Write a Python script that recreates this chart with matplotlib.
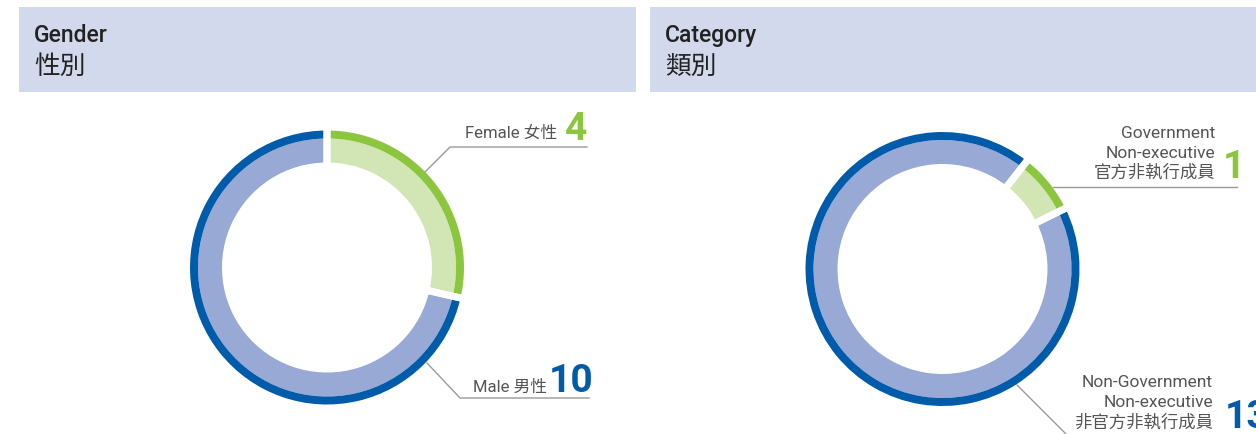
import matplotlib
matplotlib.use('Agg')
import matplotlib.pyplot as plt
from matplotlib import font_manager
from matplotlib.patches import Rectangle

# data
gender_labels = ['Female 女性', 'Male 男性']
gender_counts = [4, 10]
category_labels = [['Government', 'Non-executive', '官方非執行成員'],
                   ['Non-Government', 'Non-executive', '非官方非執行成員']]
category_counts = [1, 13]

W, H = 1256, 434
dark = {'green': '#8CC63E', 'blue': '#005BAA'}
light = {'green': '#D1E6B4', 'blue': '#97A9D4'}
line_col = '#9a9a9a'
text_col = '#555555'

try:
    font_manager.findfont('Liberation Sans Narrow', fallback_to_default=False)
    num_font = ['Liberation Sans Narrow', 'DejaVu Sans']
except Exception:
    num_font = ['Roboto', 'DejaVu Sans']
lab_font = ['Roboto', 'Noto Sans CJK TC']

fig = plt.figure(figsize=(W / 100, H / 100), dpi=100)
ax = fig.add_axes([0, 0, 1, 1])


def donut(values, center, start, r_out=137, r_in=105, stripe=8):
    cols_d = [dark['green'], dark['blue']]
    cols_l = [light['green'], light['blue']]
    lw_px = 7
    pad = lw_px / 2
    # light inner ring
    ax.pie(values, radius=r_out - stripe, center=center, startangle=start,
           counterclock=False, colors=cols_l,
           wedgeprops=dict(width=r_out - stripe - r_in + pad, linewidth=0))
    # dark outer stripe
    ax.pie(values, radius=r_out + pad, center=center, startangle=start,
           counterclock=False, colors=cols_d,
           wedgeprops=dict(width=stripe + pad, linewidth=0))
    # white gaps between slices
    ax.pie(values, radius=r_out + pad, center=center, startangle=start,
           counterclock=False, colors=['none', 'none'],
           wedgeprops=dict(width=r_out - r_in + 2 * pad, edgecolor='white',
                           linewidth=lw_px * 0.72, facecolor='none'))


# header boxes
ax.add_patch(Rectangle((19, H - 92), 617, 85, color='#D3D9ED', lw=0))
ax.add_patch(Rectangle((650, H - 92), 620, 85, color='#D3D9ED', lw=0))
for x0, t1, t2 in [(34, 'Gender', '性別'), (665, 'Category', '類別')]:
    ax.text(x0, H - 42, t1, fontsize=16.5, family=lab_font, weight='medium',
            color='#222222', va='baseline')
    ax.text(x0, H - 74, t2, fontsize=18.5, family=['Noto Sans CJK TC'],
            weight='medium', color='#222222', va='baseline')

# gender donut
donut(gender_counts, (327, H - 267.5), 90)
ax.text(557, H - 138, gender_labels[0], ha='right', va='baseline',
        fontsize=12, family=lab_font, color=text_col)
ax.text(565, H - 140, str(gender_counts[0]), ha='left', va='baseline',
        fontsize=28, family=num_font, weight='bold', color=dark['green'])
ax.plot([425, 450, 587], [H - 172, H - 147, H - 147], color=line_col, lw=1)
ax.text(547, H - 392, gender_labels[1], ha='right', va='baseline',
        fontsize=12, family=lab_font, color=text_col)
ax.text(549, H - 392, str(gender_counts[1]), ha='left', va='baseline',
        fontsize=28, family=num_font, weight='bold', color=dark['blue'])
ax.plot([427, 460, 589], [H - 363, H - 398, H - 398], color=line_col, lw=1)

# category donut
donut(category_counts, (942.5, H - 269), 52)
for i, s in enumerate(category_labels[0]):
    ax.text(1215, H - 138 - 19.5 * i, s, ha='right', va='baseline',
            fontsize=12.5, family=lab_font, color=text_col)
ax.text(1223, H - 178, str(category_counts[0]), ha='left', va='baseline',
        fontsize=28, family=num_font, weight='bold', color=dark['green'])
ax.plot([1053, 1237], [H - 187, H - 187], color=line_col, lw=1)
for i, s in enumerate(category_labels[1]):
    ax.text(1213, H - 387 - 20 * i, s, ha='right', va='baseline',
            fontsize=12.5, family=lab_font, color=text_col)
ax.text(1225, H - 428, str(category_counts[1]), ha='left', va='baseline',
        fontsize=28, family=num_font, weight='bold', color=dark['blue'])
ax.plot([1017, 1070], [H - 385, H - 438], color=line_col, lw=1)

ax.set_xlim(0, W)
ax.set_ylim(0, H)
ax.set_aspect('auto')
ax.axis('off')
fig.savefig('out.png', dpi=100, facecolor='white')
